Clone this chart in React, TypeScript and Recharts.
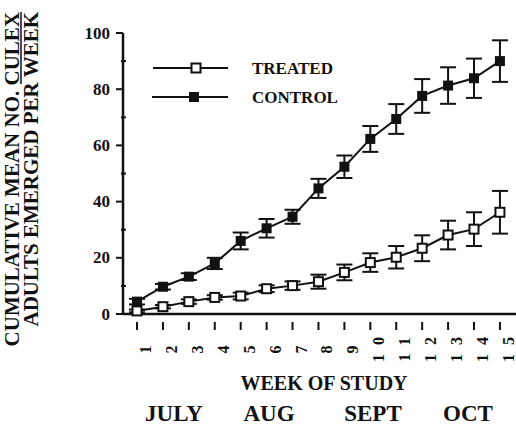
import React from "react";
import { ComposedChart, Line, XAxis, YAxis, ErrorBar, Customized } from "recharts";

const weeks = [1, 2, 3, 4, 5, 6, 7, 8, 9, 10, 11, 12, 13, 14, 15];
const treated = [1.1, 2.6, 4.4, 5.9, 6.4, 9.0, 10.1, 11.5, 14.8, 18.3, 20.2, 23.4, 28.1, 30.2, 36.2];
const treatedErr = [0.5, 0.6, 0.8, 0.8, 1.2, 1.2, 1.5, 2.5, 2.8, 3.3, 4.0, 4.6, 5.1, 6.0, 7.6];
const control = [4.4, 9.7, 13.3, 18.0, 26.0, 30.5, 34.6, 44.7, 52.4, 62.3, 69.4, 77.6, 81.3, 83.9, 90.0];
const controlErr = [1.0, 1.0, 1.2, 2.0, 3.0, 3.3, 2.5, 3.4, 4.0, 4.6, 5.3, 6.0, 6.5, 7.0, 7.4];
const yTicks = [0, 10, 20, 30, 40, 50, 60, 70, 80, 90, 100];
const months = ["JULY", "AUG", "SEPT", "OCT"];
const monthX = [174, 269, 373, 468];

const INK = "#111";
const SERIF = { fontFamily: "'Liberation Serif', 'DejaVu Serif', serif", fontWeight: 700 };

const data = weeks.map((w, i) => ({
  week: w,
  treated: treated[i],
  treatedErr: treatedErr[i],
  control: control[i],
  controlErr: controlErr[i],
}));

const OpenSquare = (props: any) => {
  const { cx, cy, index } = props;
  return (
    <rect key={`t${index}`} x={cx - 4.5} y={cy - 4.5} width={9} height={9}
      fill="#fff" stroke={INK} strokeWidth={2} />
  );
};

const FilledSquare = (props: any) => {
  const { cx, cy, index } = props;
  return (
    <rect key={`c${index}`} x={cx - 5} y={cy - 5} width={10} height={10} fill={INK} />
  );
};

const YTick = (props: any) => {
  const { x, y, payload } = props;
  const v = payload.value;
  if (v % 20 !== 0) {
    return <line x1={x - 2} x2={x + 3} y1={y} y2={y} stroke={INK} strokeWidth={2} />;
  }
  return (
    <g>
      <line x1={x - 7} x2={x} y1={y} y2={y} stroke={INK} strokeWidth={2} />
      <text x={x - 13} y={y} textAnchor="end" dominantBaseline="central"
        style={{ ...SERIF, fontSize: 17 }} fill={INK}>
        {v}
      </text>
    </g>
  );
};

const XTick = (props: any) => {
  const { x, y, payload } = props;
  const tx = x + 14;
  const ty = 345;
  return (
    <g>
      <line x1={x} x2={x} y1={y} y2={y + 8} stroke={INK} strokeWidth={2} />
      <text x={tx} y={ty} textAnchor="middle" transform={`rotate(-90, ${tx}, ${ty})`}
        style={{ ...SERIF, fontSize: 16, letterSpacing: 9 }} fill={INK}>
        {payload.value}
      </text>
    </g>
  );
};

const YLabel = () => (
  <g fill={INK}>
    <text x={19} y={12} textAnchor="end" transform="rotate(-90, 19, 12)"
      style={{ ...SERIF, fontSize: 21 }}>
      CUMULATIVE MEAN NO. CULEX
    </text>
    <text x={38} y={12} textAnchor="end" transform="rotate(-90, 38, 12)"
      style={{ ...SERIF, fontSize: 21 }}>
      ADULTS EMERGED PER WEEK
    </text>
    <line x1={21} x2={21} y1={12} y2={84} stroke={INK} strokeWidth={1.5} />
  </g>
);

const XLabel = () => (
  <g fill={INK}>
    <text x={324} y={383} textAnchor="middle" dominantBaseline="central"
      style={{ ...SERIF, fontSize: 20 }}>
      WEEK OF STUDY
    </text>
    {months.map((m, i) => (
      <text key={m} x={monthX[i]} y={413} textAnchor="middle" dominantBaseline="central"
        style={{ ...SERIF, fontSize: 23 }}>
        {m}
      </text>
    ))}
  </g>
);

const LegendBox = () => (
  <g fill={INK} transform="translate(145, 55)">
    <line x1={8} x2={83} y1={13} y2={13} stroke={INK} strokeWidth={2} />
    <rect x={46.5} y={8.5} width={9} height={9} fill="#fff" stroke={INK} strokeWidth={2} />
    <text x={107} y={13} dominantBaseline="central" style={{ ...SERIF, fontSize: 17 }}>TREATED</text>
    <line x1={7} x2={83} y1={42} y2={42} stroke={INK} strokeWidth={2} />
    <rect x={44} y={37} width={10} height={10} fill={INK} />
    <text x={107} y={42} dominantBaseline="central" style={{ ...SERIF, fontSize: 17 }}>CONTROL</text>
  </g>
);

export default function App() {
  return (
    <div style={{ position: "absolute", left: 0, top: 0, background: "#fff" }}>
      <ComposedChart width={516} height={428} data={data}
        margin={{ top: 33, right: 0, bottom: 0, left: 0 }}>
        <XAxis dataKey="week" type="number" domain={[0.46, 15.62]} ticks={weeks}
          allowDataOverflow height={114} tick={<XTick />} tickLine={false}
          axisLine={{ stroke: INK, strokeWidth: 2.5 }} interval={0}
          label={{ content: () => <XLabel /> }} />
        <YAxis type="number" domain={[0, 100]} ticks={yTicks} width={123}
          tick={<YTick />} tickLine={false} tickSize={0} tickMargin={0} interval={0}
          axisLine={{ stroke: INK, strokeWidth: 2.5 }}
          label={{ content: () => <YLabel /> }} />
        <Customized component={() => <LegendBox />} />
        <Line dataKey="treated" stroke={INK} strokeWidth={2} dot={<OpenSquare />}
          isAnimationActive={false}>
          <ErrorBar dataKey="treatedErr" width={8} strokeWidth={2} stroke={INK} direction="y" />
        </Line>
        <Line dataKey="control" stroke={INK} strokeWidth={2} dot={<FilledSquare />}
          isAnimationActive={false}>
          <ErrorBar dataKey="controlErr" width={8} strokeWidth={2} stroke={INK} direction="y" />
        </Line>
      </ComposedChart>
    </div>
  );
}
